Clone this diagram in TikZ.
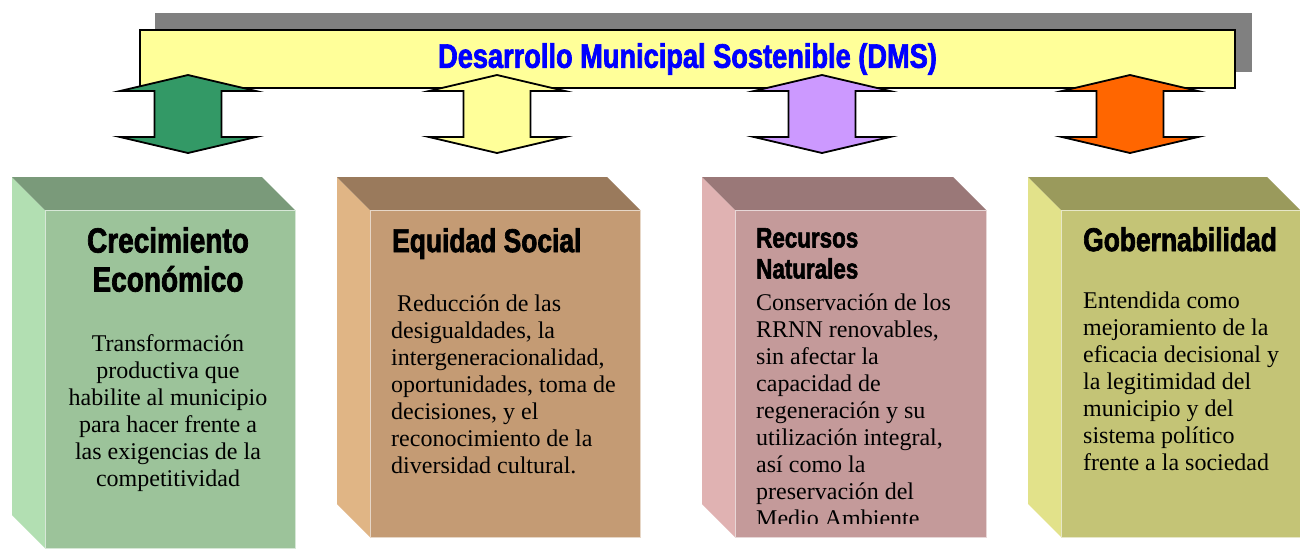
\documentclass[tikz,border=0pt]{standalone}
\usepackage{fontspec}
\setmainfont{Liberation Serif}
\newfontfamily\impactfont{Liberation Sans}[UprightFont={* Bold}, FakeStretch=0.8, FakeBold=2]
\definecolor{bannery}{HTML}{FFFF99}
\definecolor{shadowgray}{HTML}{808080}
\definecolor{dmsblue}{HTML}{0000FF}
\definecolor{agreen}{HTML}{339966}
\definecolor{ayellow}{HTML}{FFFF99}
\definecolor{apurple}{HTML}{CC99FF}
\definecolor{aorange}{HTML}{FF6600}
\definecolor{gfront}{HTML}{9CC39A}\definecolor{gtop}{HTML}{7A9A7A}\definecolor{gleft}{HTML}{B2DFB2}
\definecolor{efront}{HTML}{C49B74}\definecolor{etop}{HTML}{9A7A5C}\definecolor{eleft}{HTML}{E0B585}
\definecolor{rfront}{HTML}{C49A9A}\definecolor{rtop}{HTML}{9A7878}\definecolor{rleft}{HTML}{E0B2B2}
\definecolor{bfront}{HTML}{C4C476}\definecolor{btop}{HTML}{9A9A5C}\definecolor{bleft}{HTML}{E2E28A}
\newcommand{\boxthreed}[9]{%
  % #1 left x, #2 front x, #3 right x, #4 top y, #5 front top y, #6 bottom y, #7 front, #8 top, #9 left
  \fill[#9] (#1,#4) -- (#2,#5) -- (#2,#6) -- (#1,#6-#5+#4) -- cycle;
  \fill[#8] (#1,#4) -- (#3-#2+#1,#4) -- (#3,#5) -- (#2,#5) -- cycle;
  \fill[#7] (#2,#5) rectangle (#3,#6);
  \draw[white!60!#7, line width=0.8pt] (#2,#5) rectangle (#3,#6);
}
\tikzset{
  dblarrow/.pic={
    \path[pic actions, draw=black, line width=1.8pt, line join=miter]
      (0,75) -- (68,91) -- (33.5,91) -- (33.5,137) -- (68,137) -- (0,153)
      -- (-68,137) -- (-33.5,137) -- (-33.5,91) -- (-68,91) -- cycle;
  },
  banner/.style={draw=black, line width=1.3pt, fill=bannery, minimum width=1095pt,
    minimum height=58pt, inner sep=0pt, text=dmsblue, font=\impactfont\fontsize{34}{36}\selectfont},
  headc/.style={inner sep=0pt, align=center, font=\impactfont\fontsize{35}{39}\selectfont},
  headl/.style={inner sep=0pt, align=left, font=\impactfont\fontsize{33}{36}\selectfont},
  bodyc/.style={inner sep=0pt, align=center, font=\fontsize{24}{27}\selectfont},
  bodyl/.style={inner sep=0pt, align=left, font=\fontsize{24}{27}\selectfont},
}
\begin{document}
\begin{tikzpicture}[x=1pt,y=-1pt]
\useasboundingbox (0,0) rectangle (1300,550);
\fill[white] (0,0) rectangle (1300,550);
% banner
\fill[shadowgray] (155,13) rectangle (1252,72);
\node[banner] (dms) at (687.5,59) {Desarrollo Municipal Sostenible (DMS)};
% arrows
\pic[fill=agreen] (arrA) at (188,0) {dblarrow};
\pic[fill=ayellow] (arrB) at (497,0) {dblarrow};
\pic[fill=apurple] (arrC) at (822,0) {dblarrow};
\pic[fill=aorange] (arrD) at (1130,0) {dblarrow};
% boxes
\boxthreed{12}{45}{295}{177}{210}{548}{gfront}{gtop}{gleft}
\boxthreed{337}{370}{640}{177}{210}{537}{efront}{etop}{eleft}
\boxthreed{702}{735}{986}{177}{210}{537}{rfront}{rtop}{rleft}
\boxthreed{1028}{1061}{1300}{177}{210}{537}{bfront}{btop}{bleft}
% Crecimiento
\node[headc, anchor=north] (hA) at (168,227) {Crecimiento\\Económico};
\node[bodyc, anchor=north] (tA) at (168,334) {Transformación\\productiva que\\habilite al municipio\\para hacer frente a\\las exigencias de la\\competitividad};
% Equidad
\node[headl, anchor=north west] (hB) at (392,228) {Equidad Social};
\node[bodyl, anchor=north west] (tB) at (391,295) {\ Reducción de las\\desigualdades, la\\intergeneracionalidad,\\oportunidades, toma de\\decisiones, y el\\reconocimiento de la\\diversidad cultural.};
% Recursos
\node[headl, anchor=north west, font=\impactfont\fontsize{28}{31}\selectfont] (hC) at (756,228) {Recursos\\Naturales};
\begin{scope}
\clip (735,210) rectangle (986,523);
\node[bodyl, anchor=north west] (tC) at (756,294) {Conservación de los\\RRNN renovables,\\sin afectar la\\capacidad de\\regeneración y su\\utilización integral,\\así como la\\preservación del\\Medio Ambiente};
\end{scope}
% Gobernabilidad
\node[headl, anchor=north west] (hD) at (1083,227) {Gobernabilidad};
\node[bodyl, anchor=north west] (tD) at (1083,292) {Entendida como\\mejoramiento de la\\eficacia decisional y\\la legitimidad del\\municipio y del\\sistema político\\frente a la sociedad};
\end{tikzpicture}
\end{document}
